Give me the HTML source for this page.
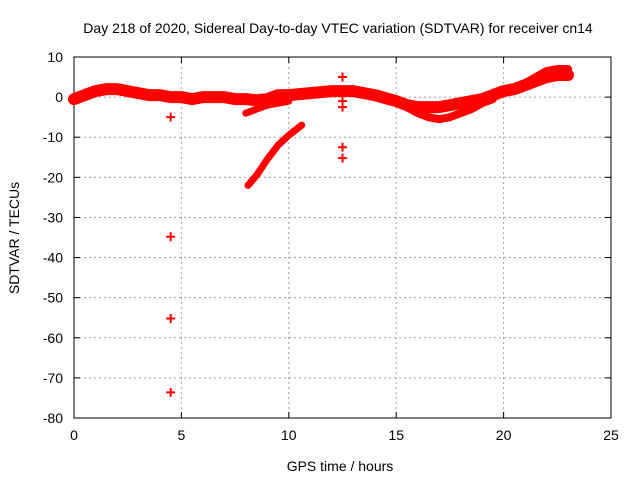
<!DOCTYPE html>
<html><head><meta charset="utf-8"><style>
body{margin:0;background:#fff}
svg text{font-family:"Liberation Sans",sans-serif;font-size:14px;fill:#000}
</style></head><body>
<svg id="chart" width="640" height="480" xmlns="http://www.w3.org/2000/svg">
<text x="338" y="33" text-anchor="middle">Day 218 of 2020, Sidereal Day-to-day VTEC variation (SDTVAR) for receiver cn14</text>
<g id="grid"></g>
<g id="axes"></g>
<g id="marks"></g>
<text x="340" y="471" text-anchor="middle">GPS time / hours</text>
<text transform="translate(19,238) rotate(-90)" text-anchor="middle">SDTVAR / TECUs</text>
</svg>
<script>
const xTicks=[0,5,10,15,20,25];
const yTicks=[10,0,-10,-20,-30,-40,-50,-60,-70,-80];
const mainHours=[0,0.5,1,1.5,2,2.5,3,3.5,4,4.5,5,5.5,6,6.5,7,7.5,8,8.5,9,9.5,10,11,12,12.5,13,14,15,15.5,16,16.5,17,17.5,18,18.5,19,19.5,20,20.5,21,21.5,22,22.5,23];
const mainValues=[-0.5,0.5,1.5,2,2,1.5,1,0.5,0.5,0,0,-0.5,0,0,0,-0.5,-0.5,-0.8,-0.5,0.5,0.5,1,1.5,1.5,1.5,0.5,-1,-2,-2.5,-2.5,-2.5,-2,-1.5,-1,-0.5,0.5,1.5,2,3,4,5,5.5,5.5];
const lowerHours=[8,8.5,9,9.5,10];
const lowerValues=[-4,-3,-2,-1.5,-1];
const branchHours=[15.5,16,16.5,17,17.5,18,18.5,19,19.5];
const branchValues=[-2.5,-4,-5,-5.5,-5,-4,-3,-1.5,-0.5];
const upperHours=[20.5,21,21.5,22,22.5,23];
const upperValues=[2.5,3.5,5,6.5,7,7];
const steepHours=[8.1,8.5,9,9.5,10,10.6];
const steepValues=[-22,-19.5,-15.5,-12,-9.5,-7];
const ptHours=[4.5,4.5,4.5,4.5,12.5,12.5,12.5,12.5,12.5];
const ptValues=[-5,-34.8,-55.2,-73.6,5,-1,-2.5,-12.5,-15.2];
const NS="http://www.w3.org/2000/svg";
const X0=74,X1=611,Y0=57,Y1=418;
const xs=h=>X0+h/25*(X1-X0);
const ys=v=>Y0+(10-v)/90*(Y1-Y0);
function mk(tag,attrs,parent){const e=document.createElementNS(NS,tag);for(const k in attrs)e.setAttribute(k,attrs[k]);parent.appendChild(e);return e;}
const grid=document.getElementById('grid'),axes=document.getElementById('axes'),marks=document.getElementById('marks');
xTicks.forEach(t=>{
 if(t>0&&t<25){const l=mk('line',{x1:xs(t),x2:xs(t),y1:Y0,y2:Y1,stroke:'#a0a0a0','stroke-dasharray':'2,3'},grid);
 
 }
 const tx=mk('text',{x:xs(t),y:Y1+22,'text-anchor':'middle'},axes);tx.textContent=t;
 
 
 mk('line',{x1:xs(t),x2:xs(t),y1:Y1,y2:Y1-6,stroke:'#000'},axes);
 mk('line',{x1:xs(t),x2:xs(t),y1:Y0,y2:Y0+6,stroke:'#000'},axes);
});
yTicks.forEach(t=>{
 if(t<10&&t>-80){const l=mk('line',{x1:X0,x2:X1,y1:ys(t),y2:ys(t),stroke:'#a0a0a0','stroke-dasharray':'2,3'},grid);
 
 }
 const tx=mk('text',{x:X0-11,y:ys(t)+5,'text-anchor':'end'},axes);tx.textContent=t;
 
 
 mk('line',{x1:X0,x2:X0+6,y1:ys(t),y2:ys(t),stroke:'#000'},axes);
 mk('line',{x1:X1,x2:X1-6,y1:ys(t),y2:ys(t),stroke:'#000'},axes);
});
const fr=mk('rect',{x:X0,y:Y0,width:X1-X0,height:Y1-Y0,fill:'none',stroke:'#000'},axes);


function band(hs,vs,w,name){
 const p=mk('polyline',{points:hs.map((h,i)=>xs(h)+','+ys(vs[i])).join(' '),fill:'none',stroke:'#f00','stroke-width':w,'stroke-linejoin':'round','stroke-linecap':'round'},marks);
 
 
}
band(mainHours,mainValues,12,'main-track');
band(lowerHours,lowerValues,7,'lower-track');
band(branchHours,branchValues,8,'branch-track');
band(upperHours,upperValues,8,'upper-track');
band(steepHours,steepValues,7,'steep-track');
ptHours.forEach((h,i)=>{
 const x=xs(h),y=ys(ptValues[i]);
 const p=mk('path',{d:`M${x-4.5},${y}H${x+4.5}M${x},${y-4.5}V${y+4.5}`,stroke:'#f00','stroke-width':2},marks);
 
 
});
</script>
</body></html>
